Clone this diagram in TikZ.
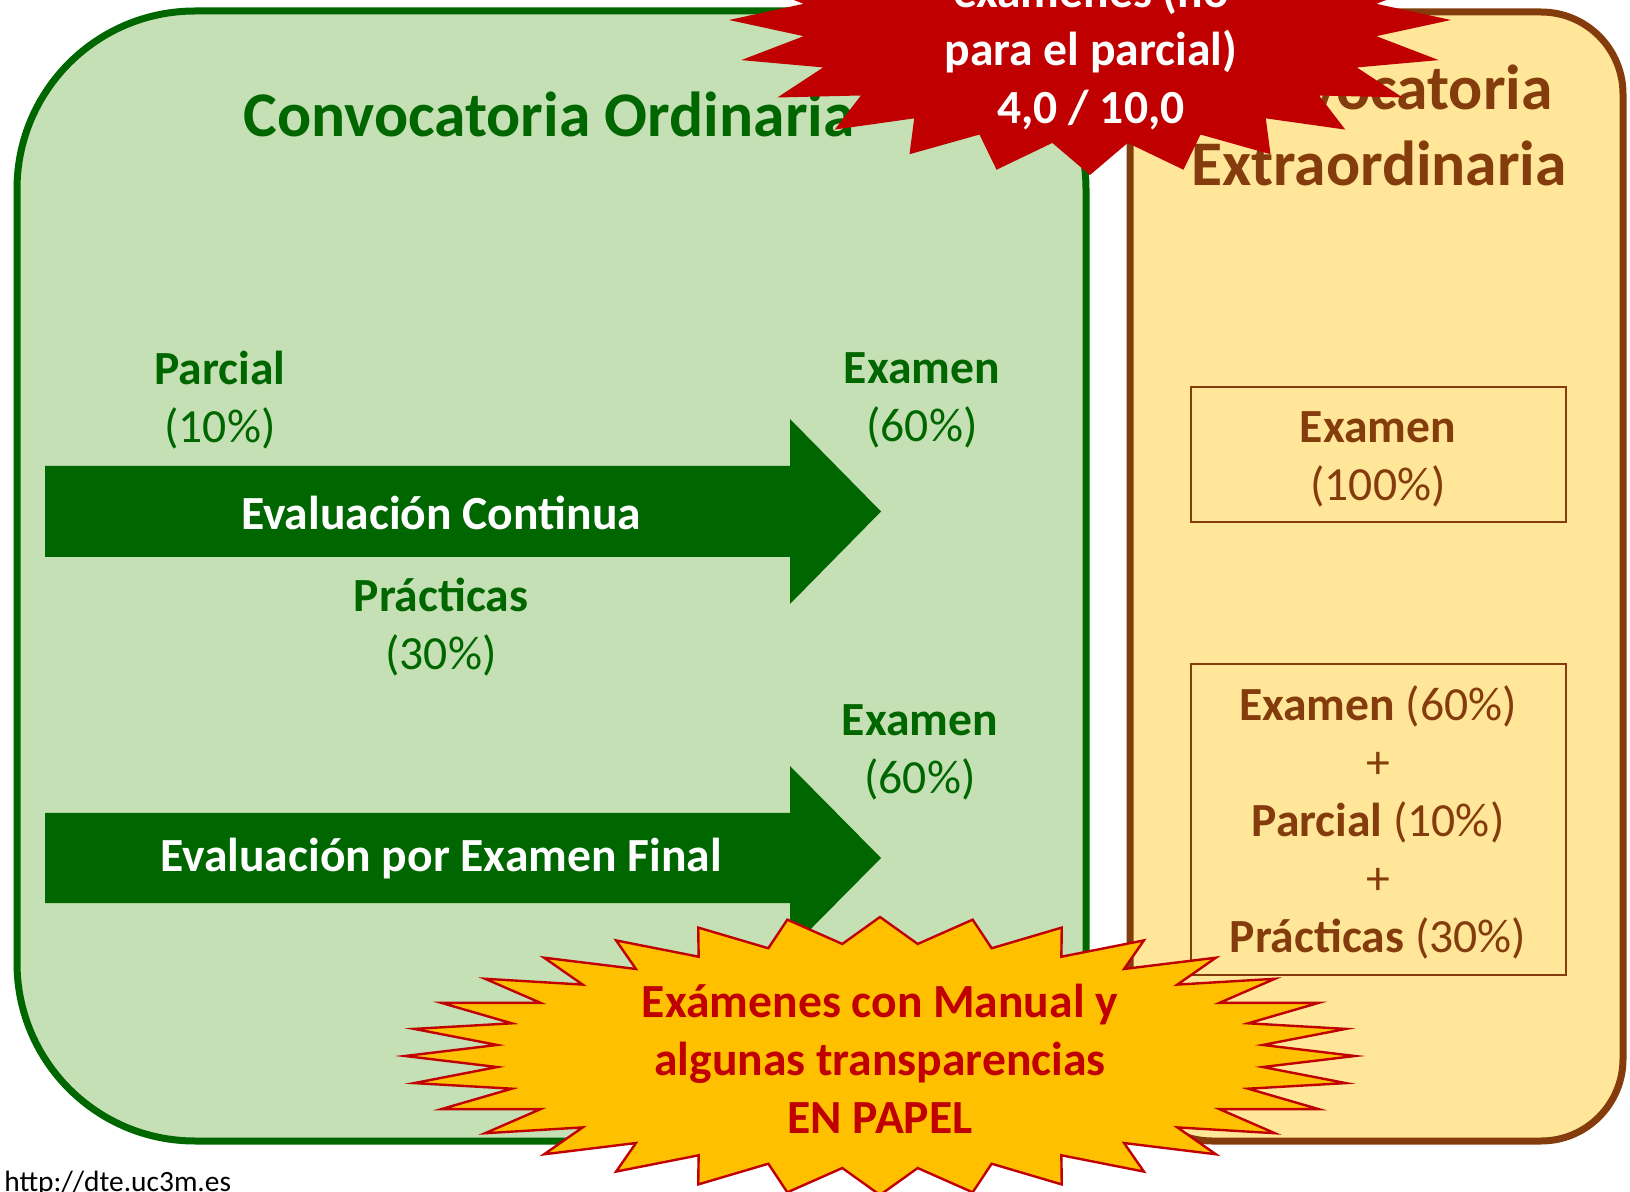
\documentclass[tikz,border=0pt]{standalone}
\usepackage{fontspec}
\setmainfont{Carlito}

\definecolor{verdeclaro}{HTML}{C5E0B4}
\definecolor{verdeosc}{HTML}{006600}
\definecolor{marron}{HTML}{843C0C}
\definecolor{crema}{HTML}{FFE699}
\definecolor{rojo}{HTML}{C00000}
\definecolor{amarillo}{HTML}{FFC000}

\begin{document}
\begin{tikzpicture}[x=0.5pt,y=-0.5pt,
    texto/.style={font=\fontsize{23.8}{29}\selectfont, align=center, inner sep=0pt},
    negrita/.style={texto, font=\fontsize{23.8}{29}\selectfont\bfseries},
    titulo/.style={font=\fontsize{31.8}{38}\selectfont\bfseries, align=center, inner sep=0pt}]
      \useasboundingbox (0,0) rectangle (1630,1192);
      % cajas de las dos convocatorias
      \draw[line width=3.5pt, verdeosc, fill=verdeclaro, rounded corners=89pt] (17,11) rectangle (1086,1141);
      \draw[line width=3.5pt, marron, fill=crema, rounded corners=41pt] (1130,12) rectangle (1623,1141);
      \node[titulo, text=verdeosc] (ordinaria) at (549,114) {Convocatoria Ordinaria};
      \node[titulo, text=marron] (extra) at (1379,125) {Convocatoria\\Extraordinaria};
      % flechas
      \fill[verdeosc] (45,466) -- (790,466) -- (790,419) -- (881,511.5) -- (790,604) -- (790,557) -- (45,557) -- cycle;
      \fill[verdeosc] (45,813) -- (790,813) -- (790,766) -- (881,858) -- (790,950) -- (790,903) -- (45,903) -- cycle;
      \node[negrita, text=white] (continua) at (441,513) {Evaluación Continua};
      \node[negrita, text=white] (final) at (441,859) {Evaluación por Examen Final};
      \node[texto, text=verdeosc] (parcial) at (220,400) {\textbf{Parcial}\\(10\%)};
      \node[texto, text=verdeosc] (examenc) at (922,400) {\textbf{Examen}\\(60\%)};
      \node[texto, text=verdeosc] (practicas) at (441,627) {\textbf{Prácticas}\\(30\%)};
      \node[texto, text=verdeosc] (examenf) at (920,752) {\textbf{Examen}\\(60\%)};
      % recuadros de la extraordinaria
      \draw[marron, line width=1pt] (1191,387) rectangle (1566,522);
      \draw[marron, line width=1pt] (1191,664) rectangle (1566,975);
      \node[texto, text=marron] (examenx) at (1378,459) {\textbf{Examen}\\(100\%)};
      \node[texto, text=marron] (sumax) at (1378,822) {\textbf{Examen} (60\%)\\+\\\textbf{Parcial} (10\%)\\+\\\textbf{Prácticas} (30\%)};
      % estrella roja
      \begin{scope}[shift={(1090,20)}]
            \fill[rojo] (0:361 and 155) \foreach \k [evaluate=\k as \f using {1-0.2*mod(\k,2)}] in {1,...,47} { -- ({\k*7.5}:{361*\f} and {155*\f}) } -- cycle;
      \end{scope}
      \node[negrita, text=white] (minima) at (1091,51) {exámenes (no\\para el parcial)\\4,0 / 10,0};
      % estrella amarilla
      \begin{scope}[shift={(880,1056)}]
            \draw[rojo, fill=amarillo, line width=1.2pt] (0:475 and 139) \foreach \k [evaluate=\k as \f using {1-0.19*mod(\k,2)}] in {1,...,63} { -- ({\k*5.625}:{475*\f} and {139*\f}) } -- cycle;
      \end{scope}
      \node[negrita, text=rojo] (manual) at (880,1059) {Exámenes con Manual y\\algunas transparencias\\EN PAPEL};
      \node[anchor=base west, inner sep=0pt, font=\fontsize{14.7}{17}\selectfont] (web) at (4,1191) {http://dte.uc3m.es};
\end{tikzpicture}
\end{document}
